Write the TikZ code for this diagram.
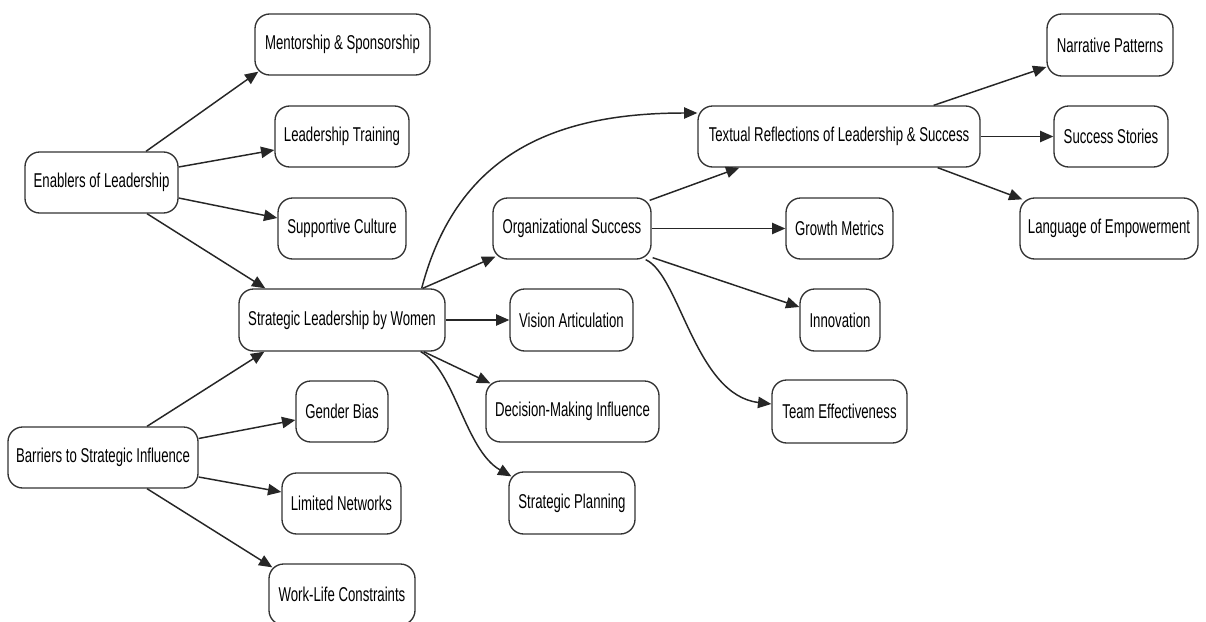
\documentclass[tikz,border=0pt]{standalone}
\usepackage{fontspec}
\newfontfamily\nodefont{Liberation Sans}[FakeStretch=0.66]
\usetikzlibrary{arrows.meta,calc}
\tikzset{
  box/.style={draw=black!80, line width=1pt, rounded corners=11pt, fill=white,
    inner sep=0pt, minimum height=45.75pt, align=center,
    font=\nodefont\fontsize{15}{18}\selectfont},
  arr/.style={draw=black!85, line width=1.1pt, -{Triangle[length=10pt,width=8.5pt]}}
}
\begin{document}
\begin{tikzpicture}[x=0.75pt,y=-0.75pt]
\useasboundingbox (0,0) rectangle (1206,621);
\clip (0,0) rectangle (1206,621);
\fill[white] (0,0) rectangle (1206,621);
% nodes
\node[box, minimum width=131.25pt] (men) at (342.5,44.5) {Mentorship \& Sponsorship};
\node[box, minimum width=100.5pt] (lt) at (342,136.5) {Leadership Training};
\node[box, minimum width=96pt] (sc) at (342,228.5) {Supportive Culture};
\node[box, minimum width=114.75pt] (ena) at (101.5,182.5) {Enablers of Leadership};
\node[box, minimum width=154.5pt, minimum height=46.5pt] (slw) at (342,320) {Strategic Leadership by Women};
\node[box, minimum width=142.5pt] (bar) at (103,457.5) {Barriers to Strategic Influence};
\node[box, minimum width=69pt] (gb) at (342,411.5) {Gender Bias};
\node[box, minimum width=89.25pt] (ln) at (341.5,503.5) {Limited Networks};
\node[box, minimum width=109.5pt] (wl) at (342,594.5) {Work-Life Constraints};
\node[box, minimum width=118.5pt] (org) at (572,228.5) {Organizational Success};
\node[box, minimum width=92.25pt, minimum height=46.5pt] (va) at (571.5,320) {Vision Articulation};
\node[box, minimum width=129.75pt] (dmi) at (572.5,411.5) {Decision-Making Influence};
\node[box, minimum width=94.5pt, minimum height=46.5pt] (sp) at (572,503) {Strategic Planning};
\node[box, minimum width=211.5pt] (tr) at (839,136.5) {Textual Reflections of Leadership \& Success};
\node[box, minimum width=80.25pt] (gm) at (839.5,228.5) {Growth Metrics};
\node[box, minimum width=60pt, minimum height=46.5pt] (inn) at (840,320) {Innovation};
\node[box, minimum width=101.25pt, minimum height=47.25pt] (te) at (839.5,411.5) {Team Effectiveness};
\node[box, minimum width=94.5pt, minimum height=46.5pt] (np) at (1110,45) {Narrative Patterns};
\node[box, minimum width=85.5pt] (ss) at (1111,136.5) {Success Stories};
\node[box, minimum width=133.5pt] (le) at (1109,228.5) {Language of Empowerment};
% connectors
\draw[arr] ($(ena.north)+(44.5,0)$) -- ($(men.south west)+(4,-4)$);
\draw[arr] ($(ena.east)+(0,-15.5)$) -- ($(lt.west)+(0,13.5)$);
\draw[arr] ($(ena.east)+(0,15.5)$) -- ($(sc.west)+(0,-10.5)$);
\draw[arr] ($(ena.south)+(45.5,0)$) -- ($(slw.north west)+(27,0)$);
\draw[arr] ($(bar.north)+(44,0)$) -- ($(slw.south west)+(26,0)$);
\draw[arr] ($(bar.east)+(0,-19)$) -- ($(gb.west)+(0,8.5)$);
\draw[arr] ($(bar.east)+(0,19.5)$) -- ($(ln.west)+(0,-11.5)$);
\draw[arr] ($(bar.south)+(44,0)$) -- ($(wl.north west)+(4,4)$);
\draw[arr] ($(slw.north east)+(-23,0)$) -- ($(org.south west)+(3,-3)$);
\draw[arr] ($(slw.north east)+(-24,0)$) .. controls (458,150) and (560,113) .. ($(tr.west)+(0,-23.5)$);
\draw[arr] (slw.east) -- (va.west);
\draw[arr] ($(slw.south east)+(-22,0)$) -- ($(dmi.north west)+(5,3)$);
\draw[arr] ($(slw.south east)+(-25,0)$) .. controls (455,370) and (465,450) .. ($(sp.north west)+(3,5)$);
\draw[arr] ($(org.north east)+(-2,3)$) -- ($(tr.south west)+(42,0)$);
\draw[arr] (org.east) -- (gm.west);
\draw[arr] ($(org.south east)+(1,-2)$) -- ($(inn.west)+(0,-13)$);
\draw[arr] ($(org.south east)+(-6,0)$) .. controls (680,275) and (695,395) .. ($(te.west)+(0,-7.5)$);
\draw[arr] ($(tr.north east)+(-47,0)$) -- ($(np.west)+(0,22)$);
\draw[arr] (tr.east) -- (ss.west);
\draw[arr] ($(tr.south east)+(-43,0)$) -- ($(le.north west)+(3,2)$);
\end{tikzpicture}
\end{document}
